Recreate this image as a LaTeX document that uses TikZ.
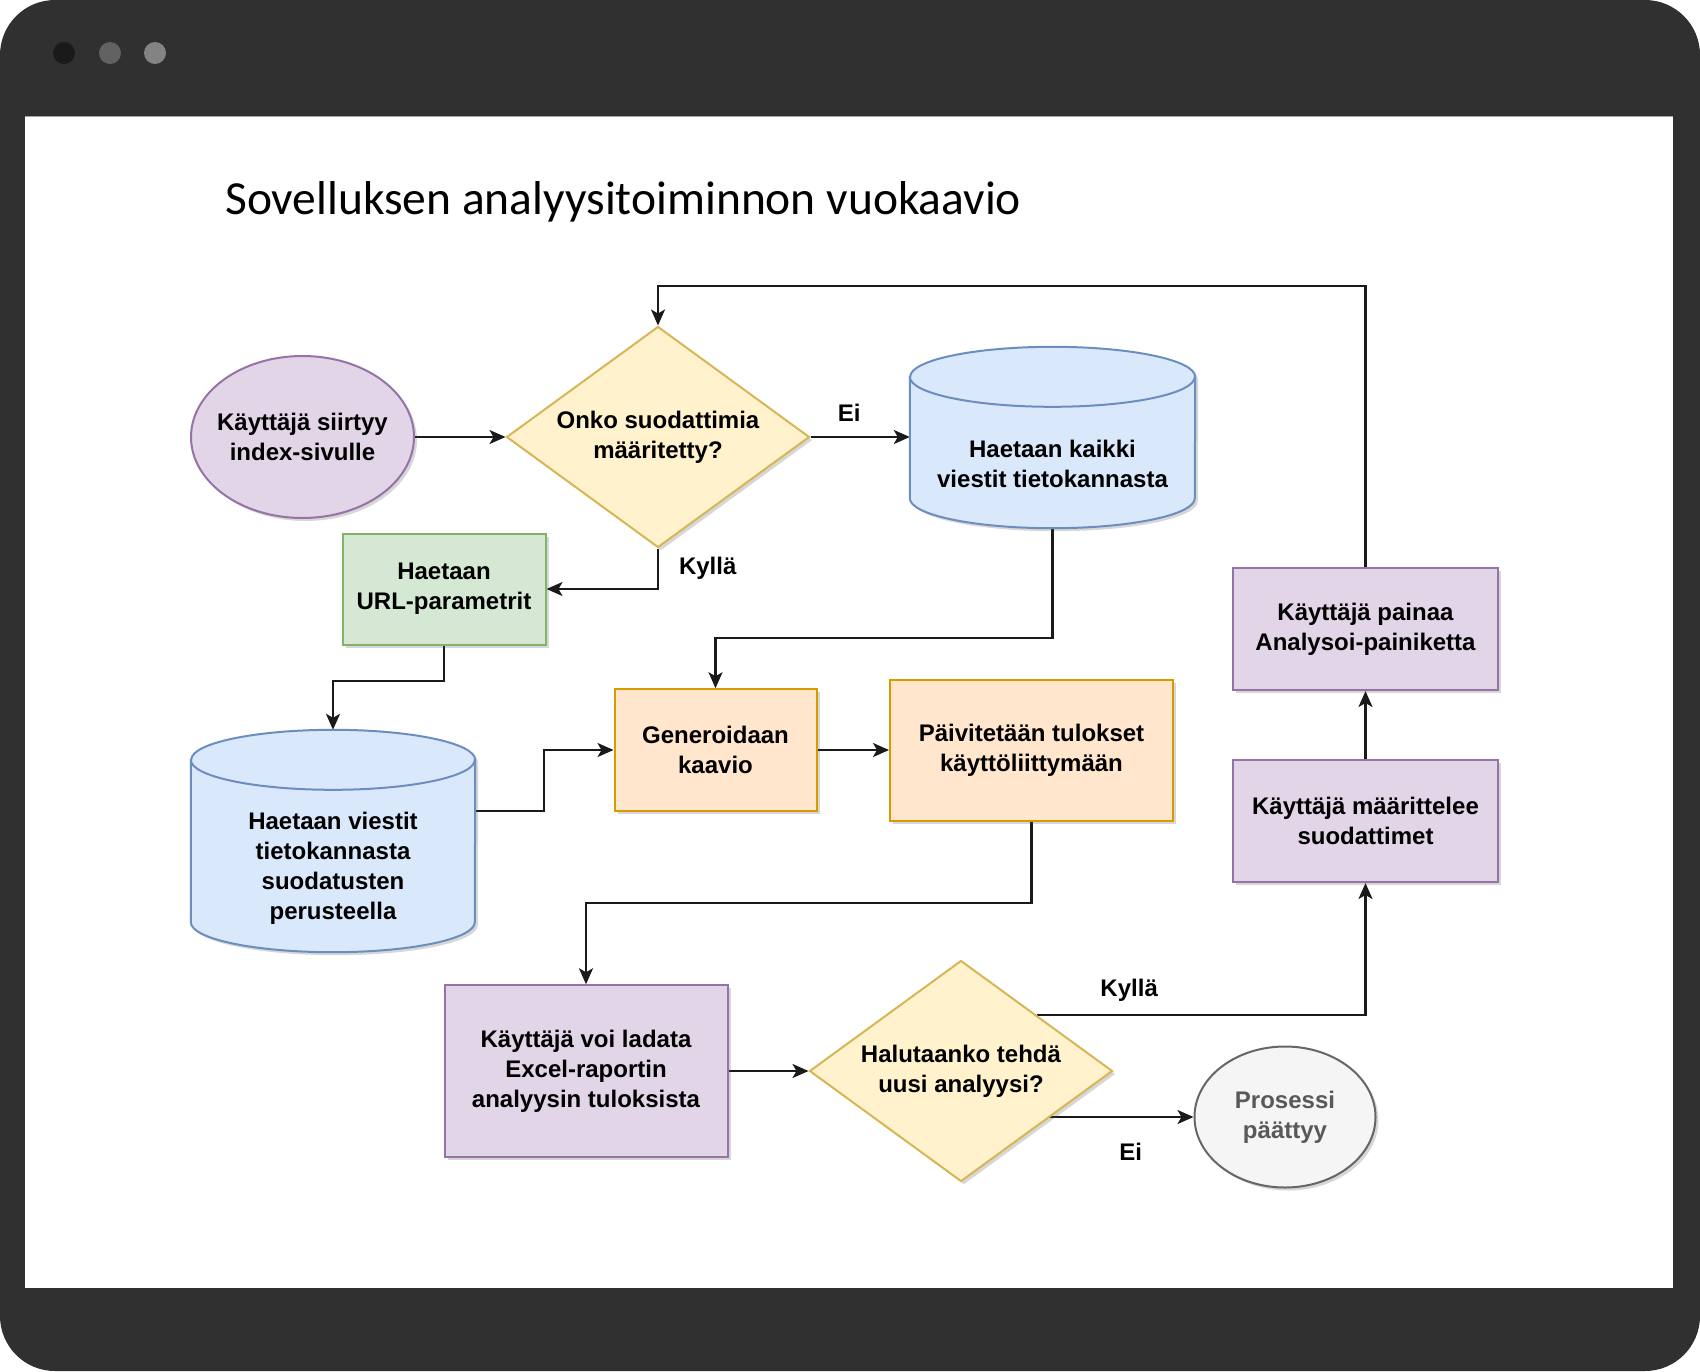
\documentclass[tikz,border=0pt]{standalone}
\usepackage{fontspec}
\setmainfont{Liberation Sans}
\newfontfamily\otsikkofont{Carlito}
\usetikzlibrary{shapes.geometric,arrows.meta,shadows}

\pgfdeclarelayer{kehys}
\pgfdeclarelayer{viivat}
\pgfdeclarelayer{kuviot}
\pgfsetlayers{kehys,viivat,kuviot,main}

\definecolor{ikkuna}{HTML}{303030}
\definecolor{pallo1}{HTML}{1A1A1A}
\definecolor{pallo2}{HTML}{626262}
\definecolor{pallo3}{HTML}{838383}
\definecolor{violettiT}{HTML}{E1D5E7}
\definecolor{violettiR}{HTML}{9673A6}
\definecolor{keltainenT}{HTML}{FFF2CC}
\definecolor{keltainenR}{HTML}{D6B656}
\definecolor{sininenT}{HTML}{DAE8FC}
\definecolor{sininenR}{HTML}{6C8EBF}
\definecolor{vihreaT}{HTML}{D5E8D4}
\definecolor{vihreaR}{HTML}{82B366}
\definecolor{oranssiT}{HTML}{FFE6CC}
\definecolor{oranssiR}{HTML}{D79B00}
\definecolor{harmaaT}{HTML}{F5F5F5}
\definecolor{harmaaR}{HTML}{666666}
\definecolor{viivavari}{HTML}{1A1A1A}

\begin{document}
\begin{tikzpicture}[x=1pt,y=-1pt,>={Stealth[length=16pt,width=14pt,inset=4pt]},
  varjo/.style={drop shadow={shadow xshift=3pt,shadow yshift=-3pt,opacity=0.22,fill=black!70}},
  teksti/.style={font=\fontsize{24}{30}\selectfont\bfseries, align=center, inner sep=2pt},
  perus/.style={teksti, draw, line width=2pt, inner sep=0pt, varjo},
  violetti/.style={perus, rectangle, fill=violettiT, draw=violettiR},
  oranssi/.style={perus, rectangle, fill=oranssiT, draw=oranssiR},
  vihrea/.style={perus, rectangle, fill=vihreaT, draw=vihreaR},
  paatos/.style={perus, diamond, aspect=1.37, fill=keltainenT, draw=keltainenR,
    minimum width=303pt, minimum height=221pt},
  alkupiste/.style={perus, ellipse, inner sep=-18pt, fill=violettiT, draw=violettiR},
  loppupiste/.style={perus, ellipse, inner sep=-18pt, fill=harmaaT, draw=harmaaR, text=black!65},
  kanta/.style={rectangle, inner sep=0pt},
  sylinteri/.style={fill=sininenT, draw=sininenR, line width=2pt, varjo},
  sylinteriviiva/.style={draw=sininenR, line width=2pt},
  viiva/.style={->, line width=2.1pt, draw=viivavari},
  otsikko/.style={font=\otsikkofont\fontsize{47.5}{56}\selectfont, inner sep=0pt}]

\useasboundingbox (0,0) rectangle (1700,1371);

% ikkunan kehys
\begin{pgfonlayer}{kehys}
  \fill[ikkuna, rounded corners=55pt] (0,0) rectangle (1700,1371);
  \fill[white] (25,116) rectangle (1673,1288);
  \draw[black!35, line width=1pt] (25,116.5) -- (1673,116.5);
  \fill[pallo1] (64,53) circle[radius=11pt];
  \fill[pallo2] (110,53) circle[radius=11pt];
  \fill[pallo3] (155,53) circle[radius=11pt];
\end{pgfonlayer}

\node[otsikko, anchor=base west] (otsikko) at (225,214) {Sovelluksen analyysitoiminnon vuokaavio};

% solmut
\node[alkupiste, minimum width=223pt, minimum height=162pt] (alku) at (302.5,437) {Käyttäjä siirtyy\\index-sivulle};
\node[paatos] (suod) at (658,437) {Onko suodattimia\\määritetty?};
\node[kanta, minimum width=285pt, minimum height=181pt,
  label={[teksti, yshift=-26pt]center:{Haetaan kaikki\\viestit tietokannasta}}] (kaikki) at (1052.5,437.5) {};
\node[vihrea, minimum width=203pt, minimum height=111pt] (url) at (444,589) {Haetaan\\URL-parametrit};
\node[kanta, minimum width=284pt, minimum height=222pt,
  label={[teksti, yshift=-27pt]center:{Haetaan viestit\\tietokannasta\\suodatusten\\perusteella}}] (db2) at (333,841) {};
\node[oranssi, minimum width=202pt, minimum height=121.5pt] (gen) at (715.5,750) {Generoidaan\\kaavio};
\node[oranssi, minimum width=283pt, minimum height=141pt] (paiv) at (1031.5,750) {Päivitetään tulokset\\käyttöliittymään};
\node[violetti, minimum width=283pt, minimum height=171.5pt] (excel) at (586,1071) {Käyttäjä voi ladata\\Excel-raportin\\analyysin tuloksista};
\node[paatos] (halu) at (961,1071) {Halutaanko tehdä\\uusi analyysi?};
\node[loppupiste, minimum width=181pt, minimum height=141pt] (loppu) at (1285,1117) {Prosessi\\päättyy};
\node[violetti, minimum width=265pt, minimum height=122pt] (maar) at (1365.5,821) {Käyttäjä määrittelee\\suodattimet};
\node[violetti, minimum width=265pt, minimum height=122pt] (paina) at (1365.5,629) {Käyttäjä painaa\\Analysoi-painiketta};

% tietokannat
\begin{pgfonlayer}{kuviot}
  \draw[sylinteri] ([yshift=-30pt]kaikki.north west) -- ([yshift=30pt]kaikki.south west)
    arc[start angle=180, end angle=360, x radius=142.5pt, y radius=30pt]
    -- ([yshift=-30pt]kaikki.north east)
    arc[start angle=0, end angle=180, x radius=142.5pt, y radius=30pt] -- cycle;
  \draw[sylinteriviiva] ([yshift=-30pt]kaikki.north west)
    arc[start angle=180, end angle=360, x radius=142.5pt, y radius=30pt];
  \draw[sylinteri] ([yshift=-30pt]db2.north west) -- ([yshift=30pt]db2.south west)
    arc[start angle=180, end angle=360, x radius=142pt, y radius=30pt]
    -- ([yshift=-30pt]db2.north east)
    arc[start angle=0, end angle=180, x radius=142pt, y radius=30pt] -- cycle;
  \draw[sylinteriviiva] ([yshift=-30pt]db2.north west)
    arc[start angle=180, end angle=360, x radius=142pt, y radius=30pt];
\end{pgfonlayer}

% nuolet
\begin{pgfonlayer}{viivat}
  \draw[viiva] (alku.east) -- (suod.west);
  \draw[viiva] (suod.east) -- node[teksti, above=12pt, pos=0.39] (eiA) {Ei} (suod.east -| kaikki.west);
  \draw[viiva] (suod.south) |- node[teksti, right, pos=0.25, xshift=18pt] (kyllaA) {Kyllä} (url.east);
  \draw[viiva] (url.south) -- (url.south |- 0,681) -| (db2.north);
  \draw[viiva] (kaikki.south) -- (kaikki.south |- 0,638) -| (gen.north);
  \draw[viiva] ([yshift=30pt]db2.east) -- ++(69,0) |- (gen.west);
  \draw[viiva] (gen.east) -- (paiv.west);
  \draw[viiva] (paiv.south) -- (paiv.south |- 0,903) -| (excel.north);
  \draw[viiva] (excel.east) -- (halu.west);
  \draw[viiva] (halu.north east) -| node[teksti, above=11pt, pos=0.14] (kyllaB) {Kyllä} (maar.south);
  \draw[viiva] (halu.center |- loppu.west) -- node[teksti, below=23pt, pos=0.73] (eiB) {Ei} (loppu.west);
  \draw[viiva] (maar.north) -- (paina.south);
  \draw[viiva] (paina.north) -- (paina.north |- 0,286) -| (suod.north);
\end{pgfonlayer}
\end{tikzpicture}
\end{document}
